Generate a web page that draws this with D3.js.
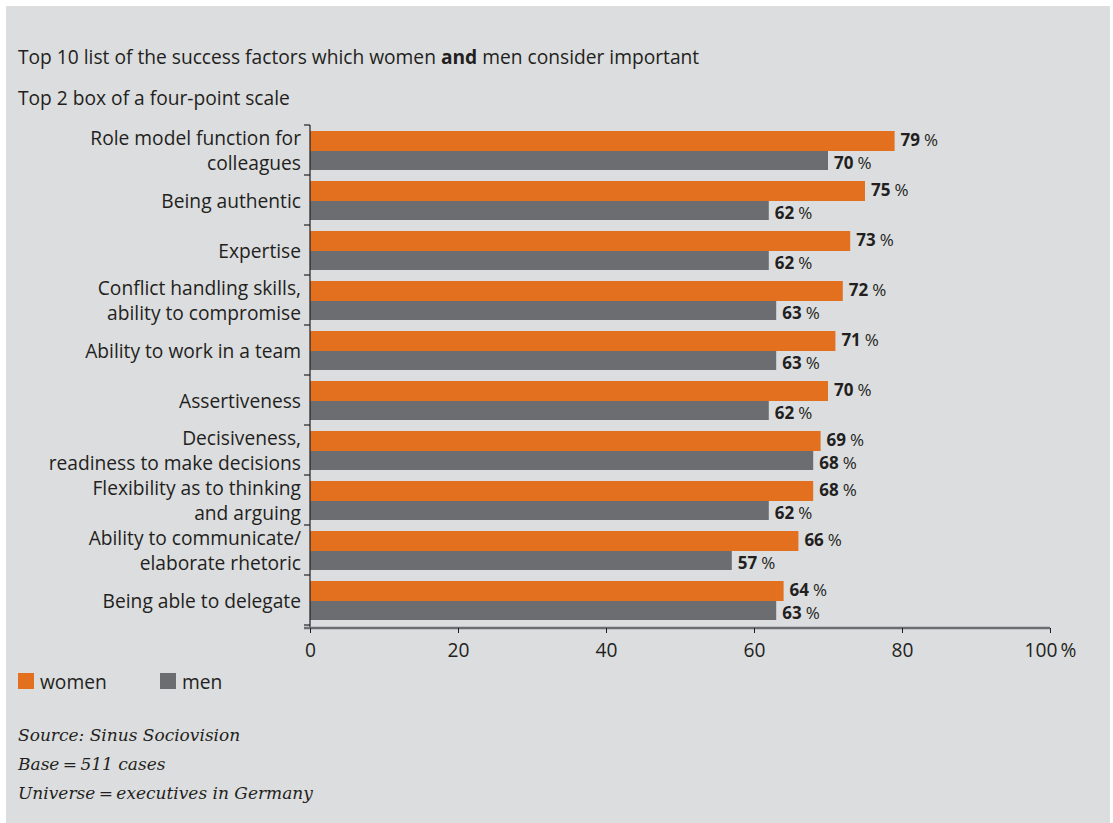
<!DOCTYPE html>
<html>
<head>
<meta charset="utf-8">
<script src="https://cdn.jsdelivr.net/npm/d3@7"></script>
<style>
  body { margin: 0; background: #fff; }
  svg { display: block; }
</style>
</head>
<body>
<div id="chart"></div>
<script>
const categories = [
    ["Role model function for", "colleagues"],
    ["Being authentic"],
    ["Expertise"],
    ["Conflict handling skills,", "ability to compromise"],
    ["Ability to work in a team"],
    ["Assertiveness"],
    ["Decisiveness,", "readiness to make decisions"],
    ["Flexibility as to thinking", "and arguing"],
    ["Ability to communicate/", "elaborate rhetoric"],
    ["Being able to delegate"]
];
const women = [79, 75, 73, 72, 71, 70, 69, 68, 66, 64];
const men = [70, 62, 62, 63, 63, 62, 68, 62, 57, 63];
const xTicks = [0, 20, 40, 60, 80, 100];
const series = [
    {name: "women", values: women},
    {name: "men", values: men}
];
const notes = ["Source: Sinus Sociovision", "Base\u2009=\u2009511 cases", "Universe\u2009=\u2009executives in Germany"];

const width = 1113, height = 823;
const orange = "#e3701e", grey = "#6c6d71", bg = "#dcdddf", ink = "#231f20";
const fs = 19.2;

const svg = d3.select("#chart").append("svg")
    .attr("width", width)
    .attr("height", height)
    .style("font-family", "'Open Sans', 'Noto Sans', sans-serif");

svg.append("rect")
    .attr("x", 6).attr("y", 6)
    .attr("width", 1104).attr("height", height - 6)
    .attr("fill", bg);

// titles
const title = svg.append("text")
    .attr("x", 18).attr("y", 64)
    .attr("font-size", fs).attr("fill", ink);
title.append("tspan").text("Top 10 list of the success factors which women ");
title.append("tspan").attr("font-weight", "bold").text("and");
title.append("tspan").text(" men consider important");

svg.append("text")
    .attr("x", 18).attr("y", 105)
    .attr("font-size", fs).attr("fill", ink)
    .text("Top 2 box of a four-point scale");

const x = d3.scaleLinear().domain([0, 100]).range([310, 1050]);
const y = d3.scaleBand().domain(d3.range(categories.length)).range([125, 625]);
const color = d3.scaleOrdinal().domain(["women", "men"]).range([orange, grey]);

// bars
const groups = svg.selectAll("g.grp")
    .data(categories)
    .join("g")
    .attr("class", "grp")
    .attr("transform", (d, i) => `translate(0,${y(i)})`);

const barTop = {women: 6, men: 26};
const barH = {women: 20, men: 19};
const labelShift = {women: -1, men: 2.5};

groups.each(function(d, i) {
    const g = d3.select(this);
    series.forEach(s => {
        const v = s.values[i];
        g.append("rect")
            .attr("x", x(0))
            .attr("y", barTop[s.name])
            .attr("width", x(v) - x(0))
            .attr("height", barH[s.name])
            .attr("fill", color(s.name));
        const t = g.append("text")
            .attr("x", x(v) + 6)
            .attr("y", barTop[s.name] + barH[s.name] / 2 + labelShift[s.name])
            .attr("dy", "0.36em")
            .attr("font-size", 17)
            .attr("fill", ink);
        t.append("tspan").attr("font-weight", "bold").text(v);
        t.append("tspan").attr("dx", 4).text("%");
    });

    // category label
    const lines = d;
    const lh = 25;
    const cy = y.bandwidth() / 2 + 1;
    g.append("text")
        .attr("text-anchor", "end")
        .attr("font-size", fs)
        .attr("fill", ink)
        .selectAll("tspan")
        .data(lines)
        .join("tspan")
        .attr("x", 301)
        .attr("y", (l, k) => cy + (k - (lines.length - 1) / 2) * lh)
        .attr("dy", "0.36em")
        .text(l => l);
});

// y axis with ticks at group boundaries
const yAxis = svg.append("g").attr("stroke", ink).attr("stroke-width", 1.2);
yAxis.append("line")
    .attr("x1", x(0)).attr("x2", x(0))
    .attr("y1", y.range()[0]).attr("y2", 628);
yAxis.selectAll("line.tk")
    .data(d3.range(categories.length + 1))
    .join("line")
    .attr("class", "tk")
    .attr("x1", x(0) - 6).attr("x2", x(0))
    .attr("y1", i => y.range()[0] + i * y.step())
    .attr("y2", i => y.range()[0] + i * y.step());

// x axis
const xAxis = svg.append("g")
    .attr("transform", "translate(0,628)")
    .call(d3.axisBottom(x).tickValues(xTicks).tickSize(5).tickPadding(10)
        .tickFormat(d => d === 100 ? "100\u2009%" : d));
xAxis.select(".domain")
    .attr("d", `M${x(0) - 6},0H${x(100)}`)
    .attr("stroke", "#6c6d71")
    .attr("stroke-width", 2.5);
xAxis.selectAll(".tick line").attr("stroke", ink);
xAxis.selectAll(".tick text")
    .attr("font-size", fs)
    .attr("font-family", "'Open Sans', 'Noto Sans', sans-serif")
    .attr("fill", ink);

// legend
const legend = svg.append("g").attr("transform", "translate(18,673)");
const li = legend.selectAll("g")
    .data(series)
    .join("g")
    .attr("transform", (d, i) => `translate(${i * 142},0)`);
li.append("rect")
    .attr("width", 16).attr("height", 16)
    .attr("fill", d => color(d.name));
li.append("text")
    .attr("x", 22).attr("y", 9)
    .attr("dy", "0.36em")
    .attr("font-size", fs)
    .attr("fill", ink)
    .text(d => d.name);

// notes
svg.append("g")
    .selectAll("text")
    .data(notes)
    .join("text")
    .attr("x", 18)
    .attr("y", (d, i) => 741 + i * 29)
    .attr("font-family", "'DejaVu Serif', serif")
    .attr("font-style", "italic")
    .attr("font-size", 17)
    .attr("fill", ink)
    .text(d => d);
</script>
</body>
</html>
